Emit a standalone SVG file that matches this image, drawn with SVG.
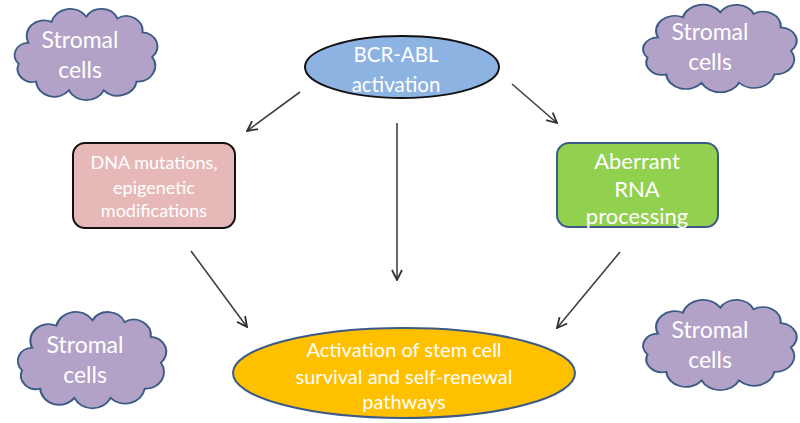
<svg xmlns="http://www.w3.org/2000/svg" width="800" height="423" viewBox="0 0 800 423">
<style>
text{font-family:Lato,"Open Sans","Liberation Sans",sans-serif;fill:#ffffff;text-anchor:middle}
.cloud{fill:#b3a2c7;stroke:#3b5a85;stroke-width:2}
.conn{stroke:#404040;stroke-width:1.6;fill:none;marker-end:url(#ah)}
.ts{font-size:23px}
.t20{font-size:20.5px}
.t22{font-size:22px}
.t16{font-size:18px}
.t19{font-size:20px}
</style>
<defs>
<path id="cl" d="M18,38 A18,18 0 0 1 42,14 A20,20 0 0 1 78,8 A18,18 0 0 1 110,10 A17,17 0 0 1 136,26 A16,16 0 0 1 146,54 A18,18 0 0 1 130,82 A20,20 0 0 1 96,92 A20,20 0 0 1 60,92 A19,19 0 0 1 26,82 A15,15 0 0 1 8,62 A14,14 0 0 1 18,38 Z"/>
<marker id="ah" viewBox="0 0 12 12" refX="11" refY="6" markerWidth="12" markerHeight="12" markerUnits="userSpaceOnUse" orient="auto">
<path d="M1,1 L11,6 L1,11" fill="none" stroke="#303030" stroke-width="1.8"/>
</marker>
</defs>
<rect width="800" height="423" fill="#ffffff"/>
<g id="cloud-tl">
<use href="#cl" class="cloud" transform="translate(10.9,9.6) scale(0.968,0.877)"/>
<text class="ts" x="80" y="48">Stromal</text>
<text class="ts" x="80" y="78">cells</text>
</g>
<g id="cloud-tr">
<use href="#cl" class="cloud" transform="translate(639.2,5.5) scale(1.04,0.84)"/>
<text class="ts" x="710" y="40">Stromal</text>
<text class="ts" x="710" y="70">cells</text>
</g>
<g id="cloud-bl">
<use href="#cl" class="cloud" transform="translate(14,312.8) scale(1.006,0.925)"/>
<text class="ts" x="85" y="353">Stromal</text>
<text class="ts" x="85" y="383">cells</text>
</g>
<g id="cloud-br">
<use href="#cl" class="cloud" transform="translate(639.2,300.6) scale(1.04,0.868)"/>
<text class="ts" x="710" y="338">Stromal</text>
<text class="ts" x="710" y="368">cells</text>
</g>
<g id="bcr-abl">
<ellipse cx="402" cy="67" rx="97" ry="31" fill="#8db3e2" stroke="#111111" stroke-width="2"/>
<text class="t20" x="396" y="62">BCR-ABL</text>
<text class="t20" x="396" y="92">activation</text>
</g>
<g id="dna">
<rect x="73" y="143" width="162" height="85" rx="12" fill="#e6b9b8" stroke="#111111" stroke-width="2"/>
<text class="t16" x="154" y="169">DNA mutations,</text>
<text class="t16" x="154" y="194">epigenetic</text>
<text class="t16" x="154" y="217">modifications</text>
</g>
<g id="rna">
<rect x="557" y="143" width="161" height="84" rx="12" fill="#92d050" stroke="#3b5a85" stroke-width="2"/>
<text class="t22" x="637" y="169">Aberrant</text>
<text class="t22" x="637" y="197">RNA</text>
<text class="t22" x="637" y="224">processing</text>
</g>
<g id="stem">
<ellipse cx="404" cy="373" rx="171" ry="45" fill="#ffc000" stroke="#3b5a85" stroke-width="2"/>
<text class="t19" x="404" y="357">Activation of stem cell</text>
<text class="t19" x="404" y="384">survival and self-renewal</text>
<text class="t19" x="404" y="409">pathways</text>
</g>
<g id="connectors">
<line class="conn" x1="300" y1="92" x2="247" y2="131"/>
<line class="conn" x1="512" y1="84" x2="557" y2="123"/>
<line class="conn" x1="397" y1="123" x2="397" y2="280"/>
<line class="conn" x1="191" y1="251" x2="247" y2="327"/>
<line class="conn" x1="620" y1="252" x2="557" y2="328"/>
</g>
</svg>
